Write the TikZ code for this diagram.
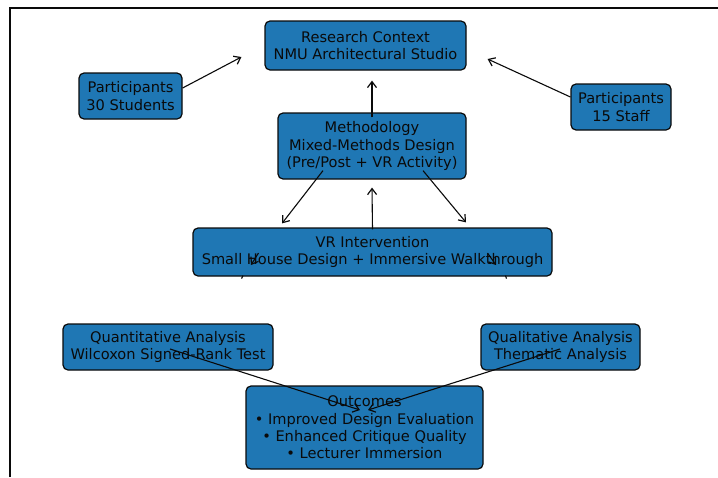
\documentclass[tikz,border=0pt]{standalone}
\usepackage{fontspec}
\setmainfont{DejaVu Sans}
\usetikzlibrary{arrows.meta}
\definecolor{boxblue}{HTML}{1F77B4}
\definecolor{inkc}{HTML}{0A0A0A}
\begin{document}
\begin{tikzpicture}[x=1pt,y=-1pt,
  box/.style={draw=inkc, line width=1.2pt, fill=boxblue, rounded corners=5pt,
    align=center, font=\fontsize{14.6}{17.3}\selectfont, inner sep=0pt, text=inkc},
  arr/.style={-{Straight Barb[length=6pt,width=9pt,line width=1.2pt]}, line width=1.1pt, draw=inkc},
  tick/.style={line width=1.1pt, draw=inkc}]
\useasboundingbox (0,0) rectangle (718,477);
\draw[line width=2pt, inkc] (10,477) -- (10,8) -- (718,8);

\node[box, minimum width=201pt, minimum height=49pt] (rc) at (365.5,45.5) {Research Context\\NMU Architectural Studio};
\node[box, minimum width=103pt, minimum height=46pt] (ps) at (130.5,96) {Participants\\30 Students};
\node[box, minimum width=100pt, minimum height=46pt] (pst) at (621,107) {Participants\\15 Staff};
\node[box, minimum width=188pt, minimum height=66pt] (meth) at (372,146) {Methodology\\Mixed-Methods Design\\(Pre/Post + VR Activity)};
\node[box, minimum width=359pt, minimum height=48pt] (vr) at (372.5,252) {VR Intervention\\Small House Design + Immersive Walkthrough};
\node[box, minimum width=210pt, minimum height=46pt] (quan) at (168,347) {Quantitative Analysis\\Wilcoxon Signed-Rank Test};
\node[box, minimum width=159pt, minimum height=46pt] (qual) at (560.5,347) {Qualitative Analysis\\Thematic Analysis};
\node[box, minimum width=237pt, minimum height=83pt] (out) at (364.5,427.5) {Outcomes\\• Improved Design Evaluation\\• Enhanced Critique Quality\\• Lecturer Immersion};

\draw[arr] ([yshift=8pt]ps.east) -- ([xshift=-23pt,yshift=-11.5pt]rc.west);
\draw[arr] ([yshift=10pt]pst.west) -- ([xshift=21pt,yshift=-13.5pt]rc.east);
\draw[arr] ([yshift=-5pt]meth.north) -- ([xshift=6.5pt,yshift=-10pt]rc.south);
\draw[arr] ([xshift=-49pt,yshift=9pt]meth.south) -- ([xshift=-90.5pt,yshift=4pt]vr.north);
\draw[arr] ([xshift=51pt,yshift=9pt]meth.south) -- ([xshift=93.5pt,yshift=5pt]vr.north);
\draw[arr] ([yshift=-2pt]vr.north) -- ([yshift=-8pt]meth.south);
\draw[arr] ([xshift=2pt,yshift=-2pt]quan.center) -- ([xshift=-4.5pt,yshift=17.5pt]out.center);
\draw[arr] ([xshift=-0.5pt,yshift=-2pt]qual.center) -- ([xshift=3.5pt,yshift=17.5pt]out.center);

\draw[arr] ([xshift=-114pt,yshift=-1pt]vr.center) -- ([xshift=-121.5pt,yshift=-13pt]vr.center);
\draw[arr] ([xshift=115pt,yshift=-1pt]vr.center) -- ([xshift=123.5pt,yshift=-13pt]vr.center);
\draw[tick] ([xshift=-129.5pt,yshift=1pt]vr.south) -- ([xshift=-131pt,yshift=-2pt]vr.south);
\draw[tick] ([xshift=133pt,yshift=1pt]vr.south) -- ([xshift=134pt,yshift=-2pt]vr.south);
\end{tikzpicture}
\end{document}
